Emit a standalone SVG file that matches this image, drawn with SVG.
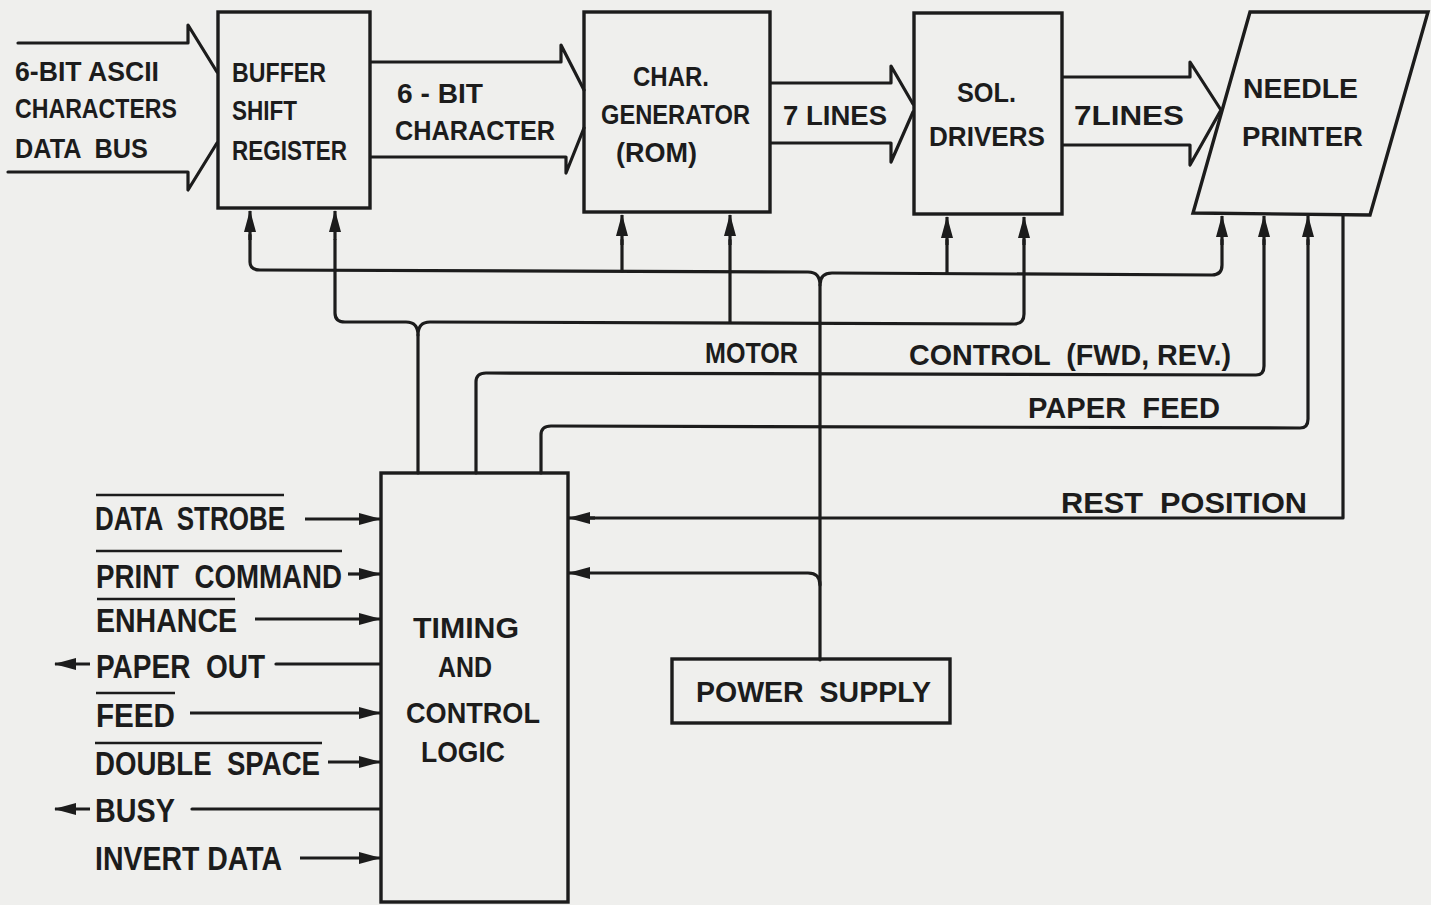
<svg xmlns="http://www.w3.org/2000/svg" width="1431" height="905" viewBox="0 0 1431 905">
<style>
.bg{fill:#efefed}
.box{fill:none;stroke:#1c1c1c;stroke-width:3.4}
.ln{fill:none;stroke:#1c1c1c;stroke-width:3.2;stroke-linejoin:round;stroke-linecap:round}
.thin{fill:none;stroke:#1c1c1c;stroke-width:2.6}
.arr{fill:none;stroke:#1c1c1c;stroke-width:3.2;marker-end:url(#ah)}
.t{font-family:"Liberation Sans",Arial,sans-serif;font-weight:bold;fill:#1c1c1c;white-space:pre}
.s{font-size:27px}
.m{font-size:30px}
.l{font-size:33px}
</style>
<defs>
<marker id="ah" viewBox="0 0 22 12" refX="21" refY="6" markerWidth="22" markerHeight="12" orient="auto" markerUnits="userSpaceOnUse">
<path d="M0,0 L22,6 L0,12 z" fill="#1c1c1c"/>
</marker>
</defs>
<rect class="bg" x="0" y="0" width="1431" height="905"/>

<g id="connectors">
<!-- bus arrows -->
<path class="ln" d="M18 43 L188 43 L188 25 L217 72 M217 143 L188 190 L188 172 L8 172"/>
<path class="ln" d="M371 62 L561 62 L561 45 L584 90 M584 128 L566 173 L566 157 L371 157"/>
<path class="ln" d="M771 83 L891 83 L891 66 L913 104 M913 112 L891 162 L891 143 L771 143"/>
<path class="ln" d="M1063 77 L1190 77 L1190 62 L1221 110 L1190 165 L1190 145 L1063 145"/>
<!-- upper bus -->
<path class="ln" d="M250 235 L250 262 Q250 270 260 270 L808 272 Q820 272 820 285 Q820 273 832 273 L1212 275 Q1222 275 1222 265 L1222 240"/>
<path class="arr" d="M250 240 L250 211"/>
<path class="arr" d="M1222 245 L1222 216"/>
<path class="ln" d="M622 271 Q622 265 622 240"/>
<path class="arr" d="M622 245 L622 215"/>
<path class="ln" d="M947 273 Q947 266 947 240"/>
<path class="arr" d="M947 245 L947 217"/>
<!-- lower bus -->
<path class="ln" d="M335 240 L335 313 Q335 322 345 322 L406 322 Q418 322 418 335 Q418 322 430 322 L1014 324 Q1024 324 1024 314 L1024 240"/>
<path class="arr" d="M335 240 L335 211"/>
<path class="ln" d="M730 322 Q730 318 730 240"/>
<path class="arr" d="M730 245 L730 215"/>
<path class="arr" d="M1024 245 L1024 217"/>
<path class="ln" d="M418 335 L418 473"/>
<!-- power supply trunk -->
<path class="ln" d="M820 285 L820 660"/>
<path class="ln" d="M820 585 Q820 573 808 573 L585 573"/>
<path class="arr" d="M590 573 L569 573"/>
<!-- motor control -->
<path class="ln" d="M476 473 L476 382 Q476 373 486 373 L1256 375 Q1264 375 1264 366 L1264 240"/>
<path class="arr" d="M1264 245 L1264 216"/>
<!-- paper feed -->
<path class="ln" d="M541 473 L541 435 Q541 426 551 426 L1300 428 Q1308 428 1308 419 L1308 240"/>
<path class="arr" d="M1308 245 L1308 216"/>
<!-- rest position -->
<path class="ln" d="M1343 215 L1343 518 L590 518"/>
<path class="arr" d="M595 518 L569 518"/>
<!-- left signals -->
<path class="arr" d="M305 519 L380 519"/>
<path class="arr" d="M348 574 L380 574"/>
<path class="arr" d="M255 619 L380 619"/>
<path class="ln" d="M276 664 L380 664"/>
<path class="arr" d="M90 664 L55 664"/>
<path class="arr" d="M190 713 L380 713"/>
<path class="arr" d="M328 762 L380 762"/>
<path class="ln" d="M192 809 L380 809"/>
<path class="arr" d="M90 809 L55 809"/>
<path class="arr" d="M300 858 L380 858"/>
<!-- overlines -->
<path class="thin" d="M96 495 L284 495 M96 551 L342 551 M97 599 L235 599 M96 693 L175 693 M95 743 L322 743"/>
</g>

<g id="input-bus">
<text class="t s" x="15" y="81" textLength="144" lengthAdjust="spacingAndGlyphs">6-BIT ASCII</text>
<text class="t s" x="15" y="118" textLength="162" lengthAdjust="spacingAndGlyphs">CHARACTERS</text>
<text class="t s" x="15" y="158" textLength="133" lengthAdjust="spacingAndGlyphs">DATA  BUS</text>
</g>

<g id="buffer-shift-register">
<rect class="box" x="218" y="12" width="152" height="196"/>
<text class="t s" x="232" y="82" textLength="94" lengthAdjust="spacingAndGlyphs">BUFFER</text>
<text class="t s" x="232" y="120" textLength="65" lengthAdjust="spacingAndGlyphs">SHIFT</text>
<text class="t s" x="232" y="160" textLength="115" lengthAdjust="spacingAndGlyphs">REGISTER</text>
</g>

<g id="bus-6bit">
<text class="t s" x="397" y="103" textLength="86" lengthAdjust="spacingAndGlyphs">6 - BIT</text>
<text class="t s" x="395" y="140" textLength="160" lengthAdjust="spacingAndGlyphs">CHARACTER</text>
</g>

<g id="char-generator">
<rect class="box" x="584" y="12" width="186" height="200"/>
<text class="t s" x="633" y="86" textLength="76" lengthAdjust="spacingAndGlyphs">CHAR.</text>
<text class="t s" x="601" y="124" textLength="149" lengthAdjust="spacingAndGlyphs">GENERATOR</text>
<text class="t s" x="616" y="162" textLength="81" lengthAdjust="spacingAndGlyphs">(ROM)</text>
</g>

<g id="lines-7a">
<text class="t s" x="783" y="125" textLength="104" lengthAdjust="spacingAndGlyphs">7 LINES</text>
</g>

<g id="sol-drivers">
<rect class="box" x="914" y="13" width="148" height="201"/>
<text class="t s" x="957" y="102" textLength="59" lengthAdjust="spacingAndGlyphs">SOL.</text>
<text class="t s" x="929" y="146" textLength="116" lengthAdjust="spacingAndGlyphs">DRIVERS</text>
</g>

<g id="lines-7b">
<text class="t s" x="1074" y="125" textLength="110" lengthAdjust="spacingAndGlyphs">7LINES</text>
</g>

<g id="needle-printer">
<polygon class="box" points="1250,12 1428,12 1370,215 1193,213"/>
<text class="t s" x="1243" y="98" textLength="115" lengthAdjust="spacingAndGlyphs">NEEDLE</text>
<text class="t s" x="1242" y="146" textLength="121" lengthAdjust="spacingAndGlyphs">PRINTER</text>
</g>

<g id="labels-mid">
<text class="t m" x="705" y="363" textLength="93" lengthAdjust="spacingAndGlyphs">MOTOR</text>
<text class="t m" x="909" y="365" textLength="322" lengthAdjust="spacingAndGlyphs">CONTROL  (FWD, REV.)</text>
<text class="t m" x="1028" y="418" textLength="192" lengthAdjust="spacingAndGlyphs">PAPER  FEED</text>
<text class="t m" x="1061" y="513" textLength="246" lengthAdjust="spacingAndGlyphs">REST  POSITION</text>
</g>

<g id="timing-control-logic">
<rect class="box" x="381" y="473" width="187" height="429"/>
<text class="t m" x="413" y="638" textLength="106" lengthAdjust="spacingAndGlyphs">TIMING</text>
<text class="t m" x="438" y="677" textLength="54" lengthAdjust="spacingAndGlyphs">AND</text>
<text class="t m" x="406" y="723" textLength="134" lengthAdjust="spacingAndGlyphs">CONTROL</text>
<text class="t m" x="421" y="762" textLength="84" lengthAdjust="spacingAndGlyphs">LOGIC</text>
</g>

<g id="power-supply">
<rect class="box" x="672" y="659" width="278" height="64"/>
<text class="t m" x="696" y="702" textLength="235" lengthAdjust="spacingAndGlyphs">POWER  SUPPLY</text>
</g>

<g id="signals">
<text class="t l" x="95" y="530" textLength="190" lengthAdjust="spacingAndGlyphs">DATA  STROBE</text>
<text class="t l" x="96" y="588" textLength="246" lengthAdjust="spacingAndGlyphs">PRINT  COMMAND</text>
<text class="t l" x="96" y="632" textLength="141" lengthAdjust="spacingAndGlyphs">ENHANCE</text>
<text class="t l" x="96" y="678" textLength="169" lengthAdjust="spacingAndGlyphs">PAPER  OUT</text>
<text class="t l" x="96" y="727" textLength="79" lengthAdjust="spacingAndGlyphs">FEED</text>
<text class="t l" x="95" y="775" textLength="225" lengthAdjust="spacingAndGlyphs">DOUBLE  SPACE</text>
<text class="t l" x="95" y="822" textLength="80" lengthAdjust="spacingAndGlyphs">BUSY</text>
<text class="t l" x="95" y="870" textLength="187" lengthAdjust="spacingAndGlyphs">INVERT DATA</text>
</g>
</svg>
